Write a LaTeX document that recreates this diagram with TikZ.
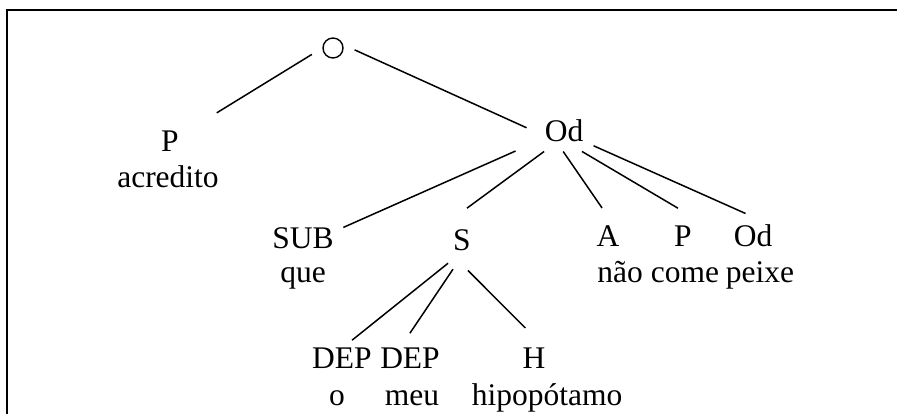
\documentclass[tikz,border=0pt]{standalone}
\usepackage{fontspec}
\setmainfont{Liberation Serif}

\begin{document}
\begin{tikzpicture}[x=1pt,y=-1pt,
		cat/.style={anchor=base,inner sep=2pt,font=\fontsize{31.5}{36}\selectfont},
		word/.style={anchor=base,inner sep=2pt,font=\fontsize{31.5}{36}\selectfont},
		branch/.style={line width=1.5pt}]
		\useasboundingbox (0,0) rectangle (897,414);
		\draw [line width=2pt] (7,414) -- (7,10) -- (897,10);
		% top of the tree
		\node [draw,circle,minimum size=20pt,inner sep=0pt,line width=1.4pt] (root) at (333,48) {};
		\node [cat] (p1) at (170,152) {P};
		\node [word] (acredito) at (168,188) {acredito};
		\node [cat] (od1) at (564,142) {Od};
		% the clause under Od
		\node [cat] (sub) at (303,248) {SUB};
		\node [word] (que) at (303,283) {que};
		\node [cat] (s) at (462,251) {S};
		\node [cat] (a) at (608,247) {A};
		\node [word] (nao) at (620,283) {não};
		\node [cat] (p2) at (683,247) {P};
		\node [word] (come) at (685,283) {come};
		\node [cat] (od2) at (753,247) {Od};
		\node [word] (peixe) at (760,283) {peixe};
		% the subject
		\node [cat] (dep1) at (342,368) {DEP};
		\node [word] (o) at (337,405) {o};
		\node [cat] (dep2) at (410,368) {DEP};
		\node [word] (meu) at (412,405) {meu};
		\node [cat] (h) at (534,368) {H};
		\node [word] (hipopotamo) at (547,405) {hipopótamo};
		% branches
		\draw [branch,shorten <=12.2pt,shorten >=42pt] (root.west) -- (p1.32);
		\draw [branch,shorten <=12.6pt,shorten >=17.5pt] (root.18) -- (od1.190);
		\draw [branch,shorten <=29.5pt,shorten >=8.2pt] (od1.200) -- (sub.12);
		\draw [branch,shorten <=11.8pt,shorten >=33.4pt] (od1.232) -- ([xshift=-11pt]s.north west);
		\draw [branch,shorten <=8.5pt,shorten >=19.4pt] (od1.247) -- (a.68);
		\draw [branch,shorten <=13.7pt,shorten >=31.4pt] (od1.295) -- ([xshift=11pt]p2.north east);
		\draw [branch,shorten <=8.9pt,shorten >=23.2pt] (od1.333) -- (od2.44);
		\draw [branch,shorten <=15.6pt,shorten >=8pt] (s.262) -- (dep1.73);
		\draw [branch,shorten <=18.9pt,shorten >=14.5pt] (s.277) -- (dep2.123);
		\draw [branch,shorten <=23.9pt,shorten >=24.3pt] (s.south west) -- (h.56);
	\end{tikzpicture}
\end{document}
